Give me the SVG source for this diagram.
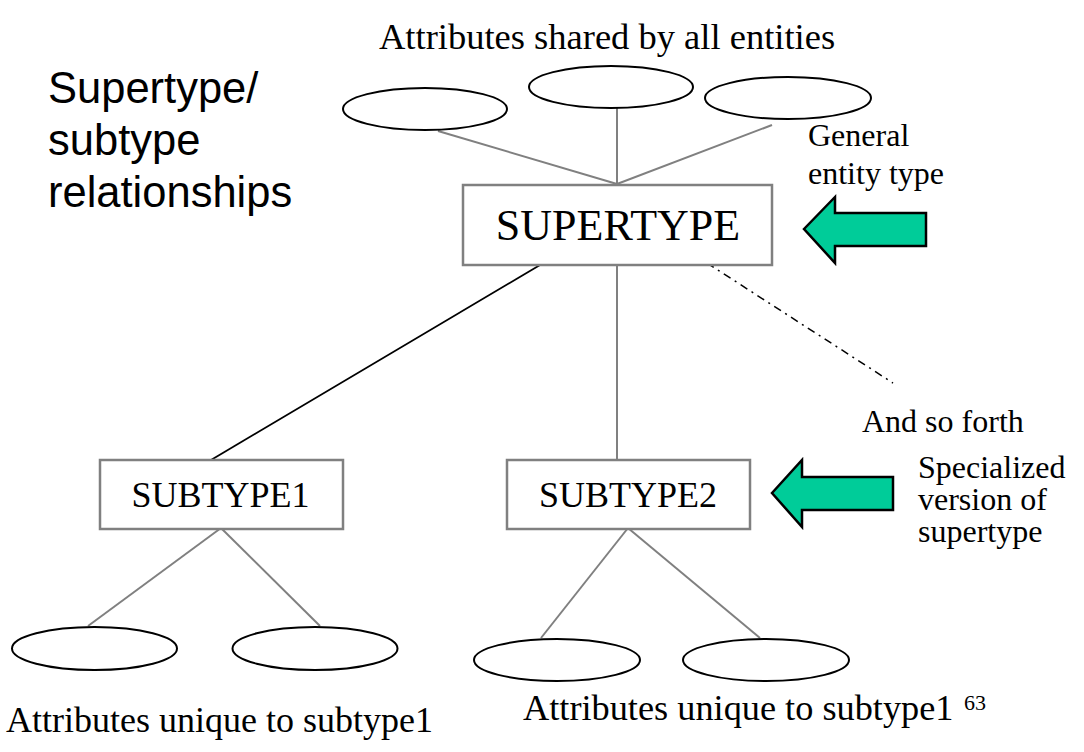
<svg xmlns="http://www.w3.org/2000/svg" width="1084" height="752" viewBox="0 0 1084 752">
<style>
.serif{font-family:"Liberation Serif","Times New Roman",serif;fill:#000}
.sans{font-family:"Liberation Sans",Arial,sans-serif;fill:#000}
.box{fill:#fff;stroke:#808080;stroke-width:2.5}
.attr{fill:#fff;stroke:#000;stroke-width:2}
.gl{stroke:#808080;stroke-width:2;fill:none}
.bl{stroke:#000;stroke-width:1.8;fill:none}
.dd{stroke:#000;stroke-width:1.5;fill:none;stroke-dasharray:8 5 2 5}
.arrow{fill:#00CC99;stroke:#000;stroke-width:2.5;stroke-linejoin:miter}
</style>
<rect width="1084" height="752" fill="#fff"/>
<text class="sans" font-size="43.5"><tspan x="48" y="103">Supertype/</tspan><tspan x="48" y="155">subtype</tspan><tspan x="48" y="207">relationships</tspan></text>
<text class="serif" font-size="36.5" x="379" y="49">Attributes shared by all entities</text>
<g id="connectors">
<line class="gl" x1="438" y1="131" x2="617" y2="184"/>
<line class="gl" x1="617" y1="108" x2="617" y2="184"/>
<line class="gl" x1="772" y1="125" x2="617" y2="184"/>
<line class="bl" x1="540" y1="265" x2="211" y2="460"/>
<line class="gl" x1="617" y1="265" x2="617" y2="460"/>
<line class="dd" x1="707" y1="263" x2="893" y2="383"/>
<line class="gl" x1="221" y1="528" x2="88" y2="626"/>
<line class="gl" x1="221" y1="528" x2="320" y2="626"/>
<line class="gl" x1="628" y1="528" x2="541" y2="638"/>
<line class="gl" x1="628" y1="528" x2="760" y2="638"/>
</g>
<g id="attr-shared-1"><ellipse class="attr" cx="425" cy="109" rx="82" ry="21"/></g>
<g id="attr-shared-2"><ellipse class="attr" cx="611" cy="87" rx="82" ry="21"/></g>
<g id="attr-shared-3"><ellipse class="attr" cx="788" cy="98" rx="83" ry="21"/></g>
<g id="supertype">
<rect class="box" x="463" y="185" width="309" height="80"/>
<text class="serif" font-size="44" x="618" y="240" text-anchor="middle">SUPERTYPE</text>
</g>
<g id="subtype1">
<rect class="box" x="100" y="460" width="243" height="69"/>
<text class="serif" font-size="36" x="220.5" y="507" text-anchor="middle">SUBTYPE1</text>
</g>
<g id="subtype2">
<rect class="box" x="507" y="460" width="243" height="69"/>
<text class="serif" font-size="36" x="628" y="507" text-anchor="middle">SUBTYPE2</text>
</g>
<g id="attr-sub1-1"><ellipse class="attr" cx="94.5" cy="648.5" rx="82.5" ry="21.5"/></g>
<g id="attr-sub1-2"><ellipse class="attr" cx="315" cy="648.5" rx="82.5" ry="21.5"/></g>
<g id="attr-sub2-1"><ellipse class="attr" cx="557" cy="660" rx="83" ry="21"/></g>
<g id="attr-sub2-2"><ellipse class="attr" cx="766" cy="660" rx="83" ry="21"/></g>
<g id="arrow-general">
<polygon class="arrow" points="804,229 835,197 835,213 926,213 926,246 835,246 835,263"/>
</g>
<g id="arrow-specialized">
<polygon class="arrow" points="772,493 802,460 802,477 893,477 893,510 802,510 802,527"/>
</g>
<text class="serif" font-size="32"><tspan x="808" y="146">General</tspan><tspan x="808" y="184">entity type</tspan></text>
<text class="serif" font-size="32" x="862" y="432">And so forth</text>
<text class="serif" font-size="32"><tspan x="918" y="478">Specialized</tspan><tspan x="918" y="510">version of</tspan><tspan x="918" y="542">supertype</tspan></text>
<text class="serif" font-size="36" x="6" y="732">Attributes unique to subtype1</text>
<text class="serif" font-size="36.3" x="523" y="720">Attributes unique to subtype1</text>
<text class="serif" font-size="22" x="964" y="710">63</text>
</svg>
